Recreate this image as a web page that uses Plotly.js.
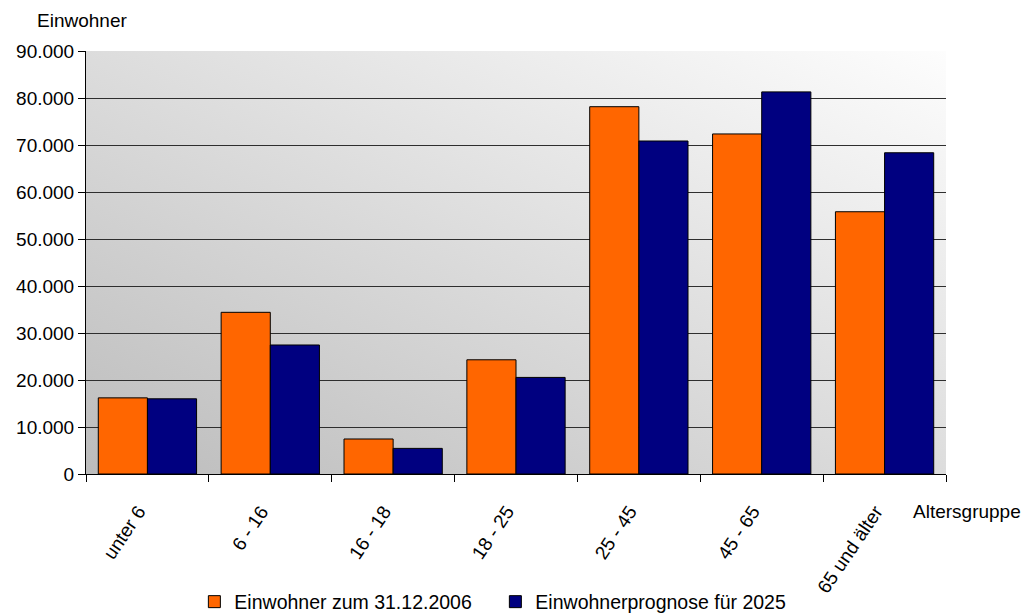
<!DOCTYPE html>
<html>
<head>
<meta charset="utf-8">
<script src="https://cdn.plot.ly/plotly-3.0.1.min.js"></script>
<style>
  html, body { margin: 0; padding: 0; background: #ffffff; }
  #chart { width: 1032px; height: 613px; }
</style>
</head>
<body>
<div id="chart"></div>
<script>
// Age groups
const altersgruppen = ["unter 6", "6 - 16", "16 - 18", "18 - 25", "25 - 45", "45 - 65", "65 und älter"];

// Residents on 31.12.2006
const einwohner2006 = [16200, 34400, 7450, 24300, 78150, 72350, 55800];

// Forecast for 2025
const prognose2025 = [16000, 27450, 5450, 20550, 70850, 81300, 68350];

const seriesNames = ["Einwohner zum 31.12.2006", "Einwohnerprognose für 2025"];
const yTickVals = [0, 10000, 20000, 30000, 40000, 50000, 60000, 70000, 80000, 90000];

const FONT = "Liberation Sans, Arial, sans-serif";

// Diagonal grey gradient for the plotting area (dark bottom-left, light top-right)
const gradientSvg =
  '<svg xmlns="http://www.w3.org/2000/svg" width="861" height="423" viewBox="0 0 861 423" preserveAspectRatio="none">' +
  '<defs><linearGradient id="g" x1="0" y1="1" x2="1" y2="0">' +
  '<stop offset="0" stop-color="#bcbcbc"/>' +
  '<stop offset="1" stop-color="#fdfdfd"/>' +
  '</linearGradient></defs>' +
  '<rect width="861" height="423" fill="url(#g)"/></svg>';
const gradientSrc = "data:image/svg+xml;charset=utf-8," + encodeURIComponent(gradientSvg);

const traces = [
  {
    type: "bar",
    name: seriesNames[0],
    x: altersgruppen,
    y: einwohner2006,
    marker: { color: "#ff6600", line: { color: "#000000", width: 1 } },
    hoverinfo: "x+y"
  },
  {
    type: "bar",
    name: seriesNames[1],
    x: altersgruppen,
    y: prognose2025,
    marker: { color: "#000080", line: { color: "#000000", width: 1 } },
    hoverinfo: "x+y"
  }
];

const layout = {
  width: 1032,
  height: 613,
  margin: { l: 86, r: 86, t: 51, b: 139 },
  paper_bgcolor: "#ffffff",
  plot_bgcolor: "rgba(0,0,0,0)",
  font: { family: FONT, size: 19, color: "#000000" },
  separators: ",.",
  barmode: "group",
  bargap: 0.2,
  bargroupgap: 0,
  showlegend: true,
  legend: {
    orientation: "h",
    x: 0.126,
    xanchor: "left",
    yref: "container",
    y: 0.018,
    yanchor: "middle",
    font: { family: FONT, size: 19.5, color: "#000000" },
    bgcolor: "rgba(0,0,0,0)",
    itemwidth: 30,
    entrywidth: 256,
    entrywidthmode: "pixels",
    traceorder: "normal"
  },
  xaxis: {
    type: "category",
    range: [-0.5, 6.5],
    showgrid: false,
    showline: true,
    linecolor: "#000000",
    linewidth: 1,
    ticks: "outside",
    tickson: "boundaries",
    ticklen: 7,
    tickcolor: "#000000",
    tickangle: -56,
    ticklabelshift: -9,
    ticklabelstandoff: 18,
    tickfont: { family: FONT, size: 19, color: "#000000" },
    fixedrange: true
  },
  yaxis: {
    range: [0, 90000],
    tickvals: yTickVals,
    tickformat: ",d",
    showgrid: true,
    gridcolor: "#2e2e2e",
    gridwidth: 1,
    zeroline: false,
    showline: true,
    linecolor: "#000000",
    linewidth: 1,
    ticks: "outside",
    ticklen: 7,
    tickcolor: "#000000",
    tickfont: { family: FONT, size: 19, color: "#000000" },
    fixedrange: true
  },
  images: [
    {
      source: gradientSrc,
      xref: "paper",
      yref: "paper",
      x: 0,
      y: 1,
      sizex: 1,
      sizey: 1,
      sizing: "stretch",
      xanchor: "left",
      yanchor: "top",
      layer: "below"
    }
  ],
  annotations: [
    {
      text: "Einwohner",
      xref: "paper",
      yref: "paper",
      x: -0.0592,
      y: 1.073,
      xanchor: "left",
      yanchor: "middle",
      showarrow: false,
      font: { family: FONT, size: 19, color: "#000000" }
    },
    {
      text: "Altersgruppe",
      xref: "paper",
      yref: "paper",
      x: 0.9593,
      y: -0.0898,
      xanchor: "left",
      yanchor: "middle",
      showarrow: false,
      font: { family: FONT, size: 19, color: "#000000" }
    }
  ]
};

Plotly.newPlot("chart", traces, layout, { displayModeBar: false, staticPlot: true });
</script>
</body>
</html>
